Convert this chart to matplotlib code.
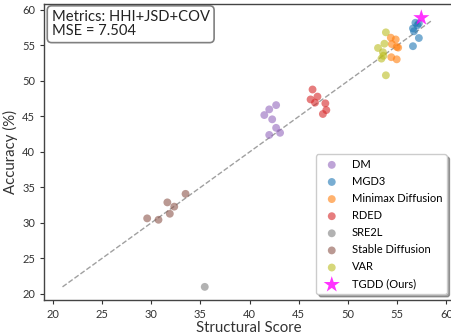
import matplotlib
matplotlib.use("Agg")
import matplotlib.pyplot as plt
import numpy as np

plt.rcParams['font.family'] = ['Lato', 'DejaVu Sans']

methods = ["DM", "MGD3", "Minimax Diffusion", "RDED", "SRE2L", "Stable Diffusion", "VAR"]
colors = ["#9467bd", "#1f77b4", "#ff7f0e", "#d62728", "#7f7f7f", "#8c564b", "#bcbd22"]

dm_x = [41.5, 42.0, 42.7, 42.3, 42.7, 42.0, 43.1]
dm_y = [45.2, 46.0, 46.6, 44.6, 43.4, 42.4, 42.7]
mgd3_x = [56.85, 57.05, 56.6, 56.7, 57.2, 56.6, 57.2]
mgd3_y = [58.2, 57.85, 57.4, 57.0, 56.05, 54.9, 58.1]
minimax_x = [54.35, 54.85, 54.45, 54.95, 55.1, 54.4, 54.95]
minimax_y = [56.1, 55.85, 55.2, 54.8, 54.7, 53.35, 53.05]
rded_x = [46.4, 46.2, 46.9, 46.65, 47.7, 47.8, 47.45]
rded_y = [48.8, 47.4, 47.8, 46.95, 46.85, 45.9, 45.35]
sre2l_x = [35.45]
sre2l_y = [21.0]
sd_x = [29.6, 30.75, 31.65, 31.9, 32.35, 33.5]
sd_y = [30.65, 30.45, 32.9, 31.3, 32.3, 34.1]
var_x = [53.85, 53.7, 53.05, 53.55, 53.6, 53.4, 53.85]
var_y = [56.85, 55.25, 54.65, 54.05, 53.55, 53.15, 50.8]
ours_x = [57.45]
ours_y = [58.9]

xs = [dm_x, mgd3_x, minimax_x, rded_x, sre2l_x, sd_x, var_x]
ys = [dm_y, mgd3_y, minimax_y, rded_y, sre2l_y, sd_y, var_y]

fig = plt.figure(figsize=(4.51, 3.33), dpi=100)
W, H = 451, 333
ax = fig.add_axes([44.3 / W, 33 / H, 410 / W, 295.7 / H])

allv = np.concatenate([np.concatenate(xs), np.concatenate(ys), ours_x, ours_y])
lo, hi = allv.min(), max(max(ours_x), max(ours_y))
ax.plot([lo, hi - 0.3], [lo, hi - 0.3], ls='--', color='#a0a0a0', lw=1.0, zorder=1)

for m, c, x, y in zip(methods, colors, xs, ys):
    ax.scatter(x, y, s=32, color=c, alpha=0.6, edgecolors='none', label=m, zorder=2)
ax.scatter(ours_x, ours_y, s=150, marker='*', color='#ff00ff', alpha=0.8,
           edgecolors='none', label='TGDD (Ours)', zorder=3)

ax.set_xlim(19.15, 60.8)
ax.set_ylim(19.15, 60.8)
ax.set_xticks(np.arange(20, 61, 5))
ax.set_yticks(np.arange(20, 61, 5))
for s in ['left', 'bottom', 'top', 'right']:
    ax.spines[s].set_color('#444444')
    ax.spines[s].set_linewidth(1.0)
ax.tick_params(labelsize=8, colors='#333333', length=3, width=0.8)
ax.set_xlabel('Structural Score', fontsize=10.8, color='#333333', labelpad=1)
ax.set_ylabel('Accuracy (%)', fontsize=10.8, color='#333333', labelpad=3)

ax.text(0.018, 0.98, 'Metrics: HHI+JSD+COV\nMSE = 7.504', transform=ax.transAxes,
        fontsize=10.6, va='top', ha='left', color='#222222', linespacing=1.0,
        bbox=dict(boxstyle='round,pad=0.3', facecolor='white', edgecolor='#808080', lw=1.2))

leg = ax.legend(loc='lower right', bbox_to_anchor=(446.7 / W, 33 / H + 6 / H),
                bbox_transform=fig.transFigure, fontsize=8, frameon=True, shadow=True,
                fancybox=True, borderaxespad=0, labelspacing=0.55)
leg.get_frame().set_edgecolor('#cccccc')

fig.savefig('out.png', dpi=100)
